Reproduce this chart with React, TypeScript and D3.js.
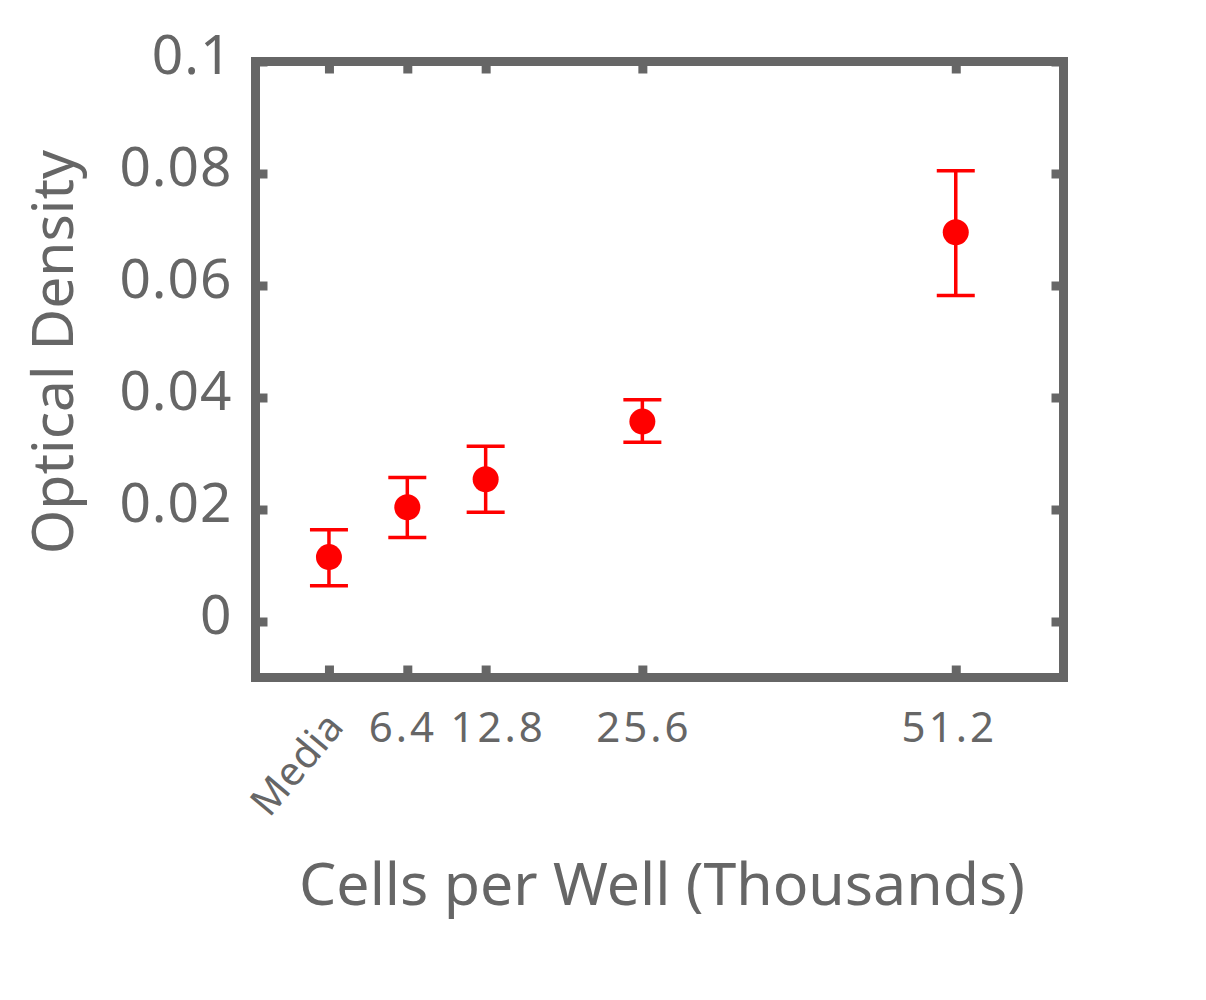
import React, { useEffect, useRef } from 'react';
import * as d3 from 'd3';

// Cells per well (thousands); 0 stands for "Media"
const cells = [0, 6.4, 12.8, 25.6, 51.2];
const cellLabels = ['Media', '6.4', '12.8', '25.6', '51.2'];
const density = [0.0115, 0.0204, 0.0254, 0.0357, 0.0695];
const errLow = [0.0064, 0.015, 0.0195, 0.032, 0.0582];
const errHigh = [0.0164, 0.0257, 0.0313, 0.0396, 0.0805];
const yTicks = [0, 0.02, 0.04, 0.06, 0.08, 0.1];
const yTickLabels = ['0', '0.02', '0.04', '0.06', '0.08', '0.1'];

const gray = '#666666';
const red = '#ff0000';
const font = '"Noto Sans", sans-serif';

function App() {
    const ref = useRef<SVGSVGElement>(null);

    useEffect(() => {
        const svg = d3.select(ref.current);
        svg.selectAll('*').remove();

        const left = 255.5, right = 1063.5, top = 61.5, bottom = 677.5;
        const x = d3.scaleLinear().domain([-6, 60]).range([left, right]);
        const y = d3.scaleLinear().domain([-0.01, 0.1]).range([bottom, top]);

        // ticks on all four sides, pointing inwards
        const tickLen = -12;
        const gB = svg.append('g').attr('transform', `translate(0,${bottom})`)
            .call(d3.axisBottom(x).tickValues(cells).tickSize(tickLen)
                .tickFormat((d, i) => cellLabels[i]));
        svg.append('g').attr('transform', `translate(0,${top})`)
            .call(d3.axisTop(x).tickValues(cells).tickSize(tickLen).tickFormat(() => ''));
        const gL = svg.append('g').attr('transform', `translate(${left},0)`)
            .call(d3.axisLeft(y).tickValues(yTicks).tickSize(tickLen).tickPadding(23)
                .tickFormat((d, i) => yTickLabels[i]));
        svg.append('g').attr('transform', `translate(${right},0)`)
            .call(d3.axisRight(y).tickValues(yTicks).tickSize(tickLen).tickFormat(() => ''));

        svg.selectAll('.domain').remove();
        svg.selectAll('.tick line').attr('stroke', gray).attr('stroke-width', 9);

        gL.selectAll('text')
            .attr('fill', gray)
            .attr('dy', '0.22em')
            .style('font-family', font)
            .style('font-size', '55px')
            .style('letter-spacing', '1px');

        // small nudges so neighbouring labels don't collide (as in the original)
        const nudge = [0, -5, 12, 1, -7];
        gB.selectAll('text')
            .attr('fill', gray)
            .attr('y', 64.5)
            .attr('dy', 0)
            .attr('dx', (d, i) => nudge[i])
            .style('font-family', font)
            .style('font-size', '42px')
            .style('letter-spacing', '3px');
        gB.selectAll('text').filter((d, i) => i === 0)
            .attr('text-anchor', 'end')
            .attr('y', null)
            .attr('dx', null)
            .attr('transform', 'translate(16,50) rotate(-50)')
            .style('font-size', '40px')
            .style('letter-spacing', '0.5px');

        // frame
        svg.append('rect')
            .attr('x', left).attr('y', top)
            .attr('width', right - left).attr('height', bottom - top)
            .attr('fill', 'none')
            .attr('stroke', gray)
            .attr('stroke-width', 9);

        // error bars
        const capHalf = 19;
        const bars = svg.append('g').attr('stroke', red).attr('stroke-width', 3.5);
        cells.forEach((c, i) => {
            const cx = x(c);
            bars.append('line').attr('x1', cx).attr('x2', cx).attr('y1', y(errLow[i])).attr('y2', y(errHigh[i]));
            bars.append('line').attr('x1', cx - capHalf).attr('x2', cx + capHalf).attr('y1', y(errLow[i])).attr('y2', y(errLow[i]));
            bars.append('line').attr('x1', cx - capHalf).attr('x2', cx + capHalf).attr('y1', y(errHigh[i])).attr('y2', y(errHigh[i]));
        });

        svg.append('g').selectAll('circle')
            .data(cells)
            .enter()
            .append('circle')
            .attr('cx', d => x(d))
            .attr('cy', (d, i) => y(density[i]))
            .attr('r', 13)
            .attr('fill', red);

        // axis titles
        svg.append('text')
            .attr('x', 662)
            .attr('y', 905)
            .attr('text-anchor', 'middle')
            .attr('fill', gray)
            .style('font-family', font)
            .style('font-size', '59px')
            .text('Cells per Well (Thousands)');

        svg.append('text')
            .attr('transform', `translate(73,${352}) rotate(-90)`)
            .attr('text-anchor', 'middle')
            .attr('fill', gray)
            .style('font-family', font)
            .style('font-size', '57px')
            .text('Optical Density');
    }, []);

    return (
        <svg ref={ref} width={1206} height={1000}
            style={{ position: 'absolute', left: 0, top: 0, background: '#fff' }}></svg>
    );
}

export default App;
